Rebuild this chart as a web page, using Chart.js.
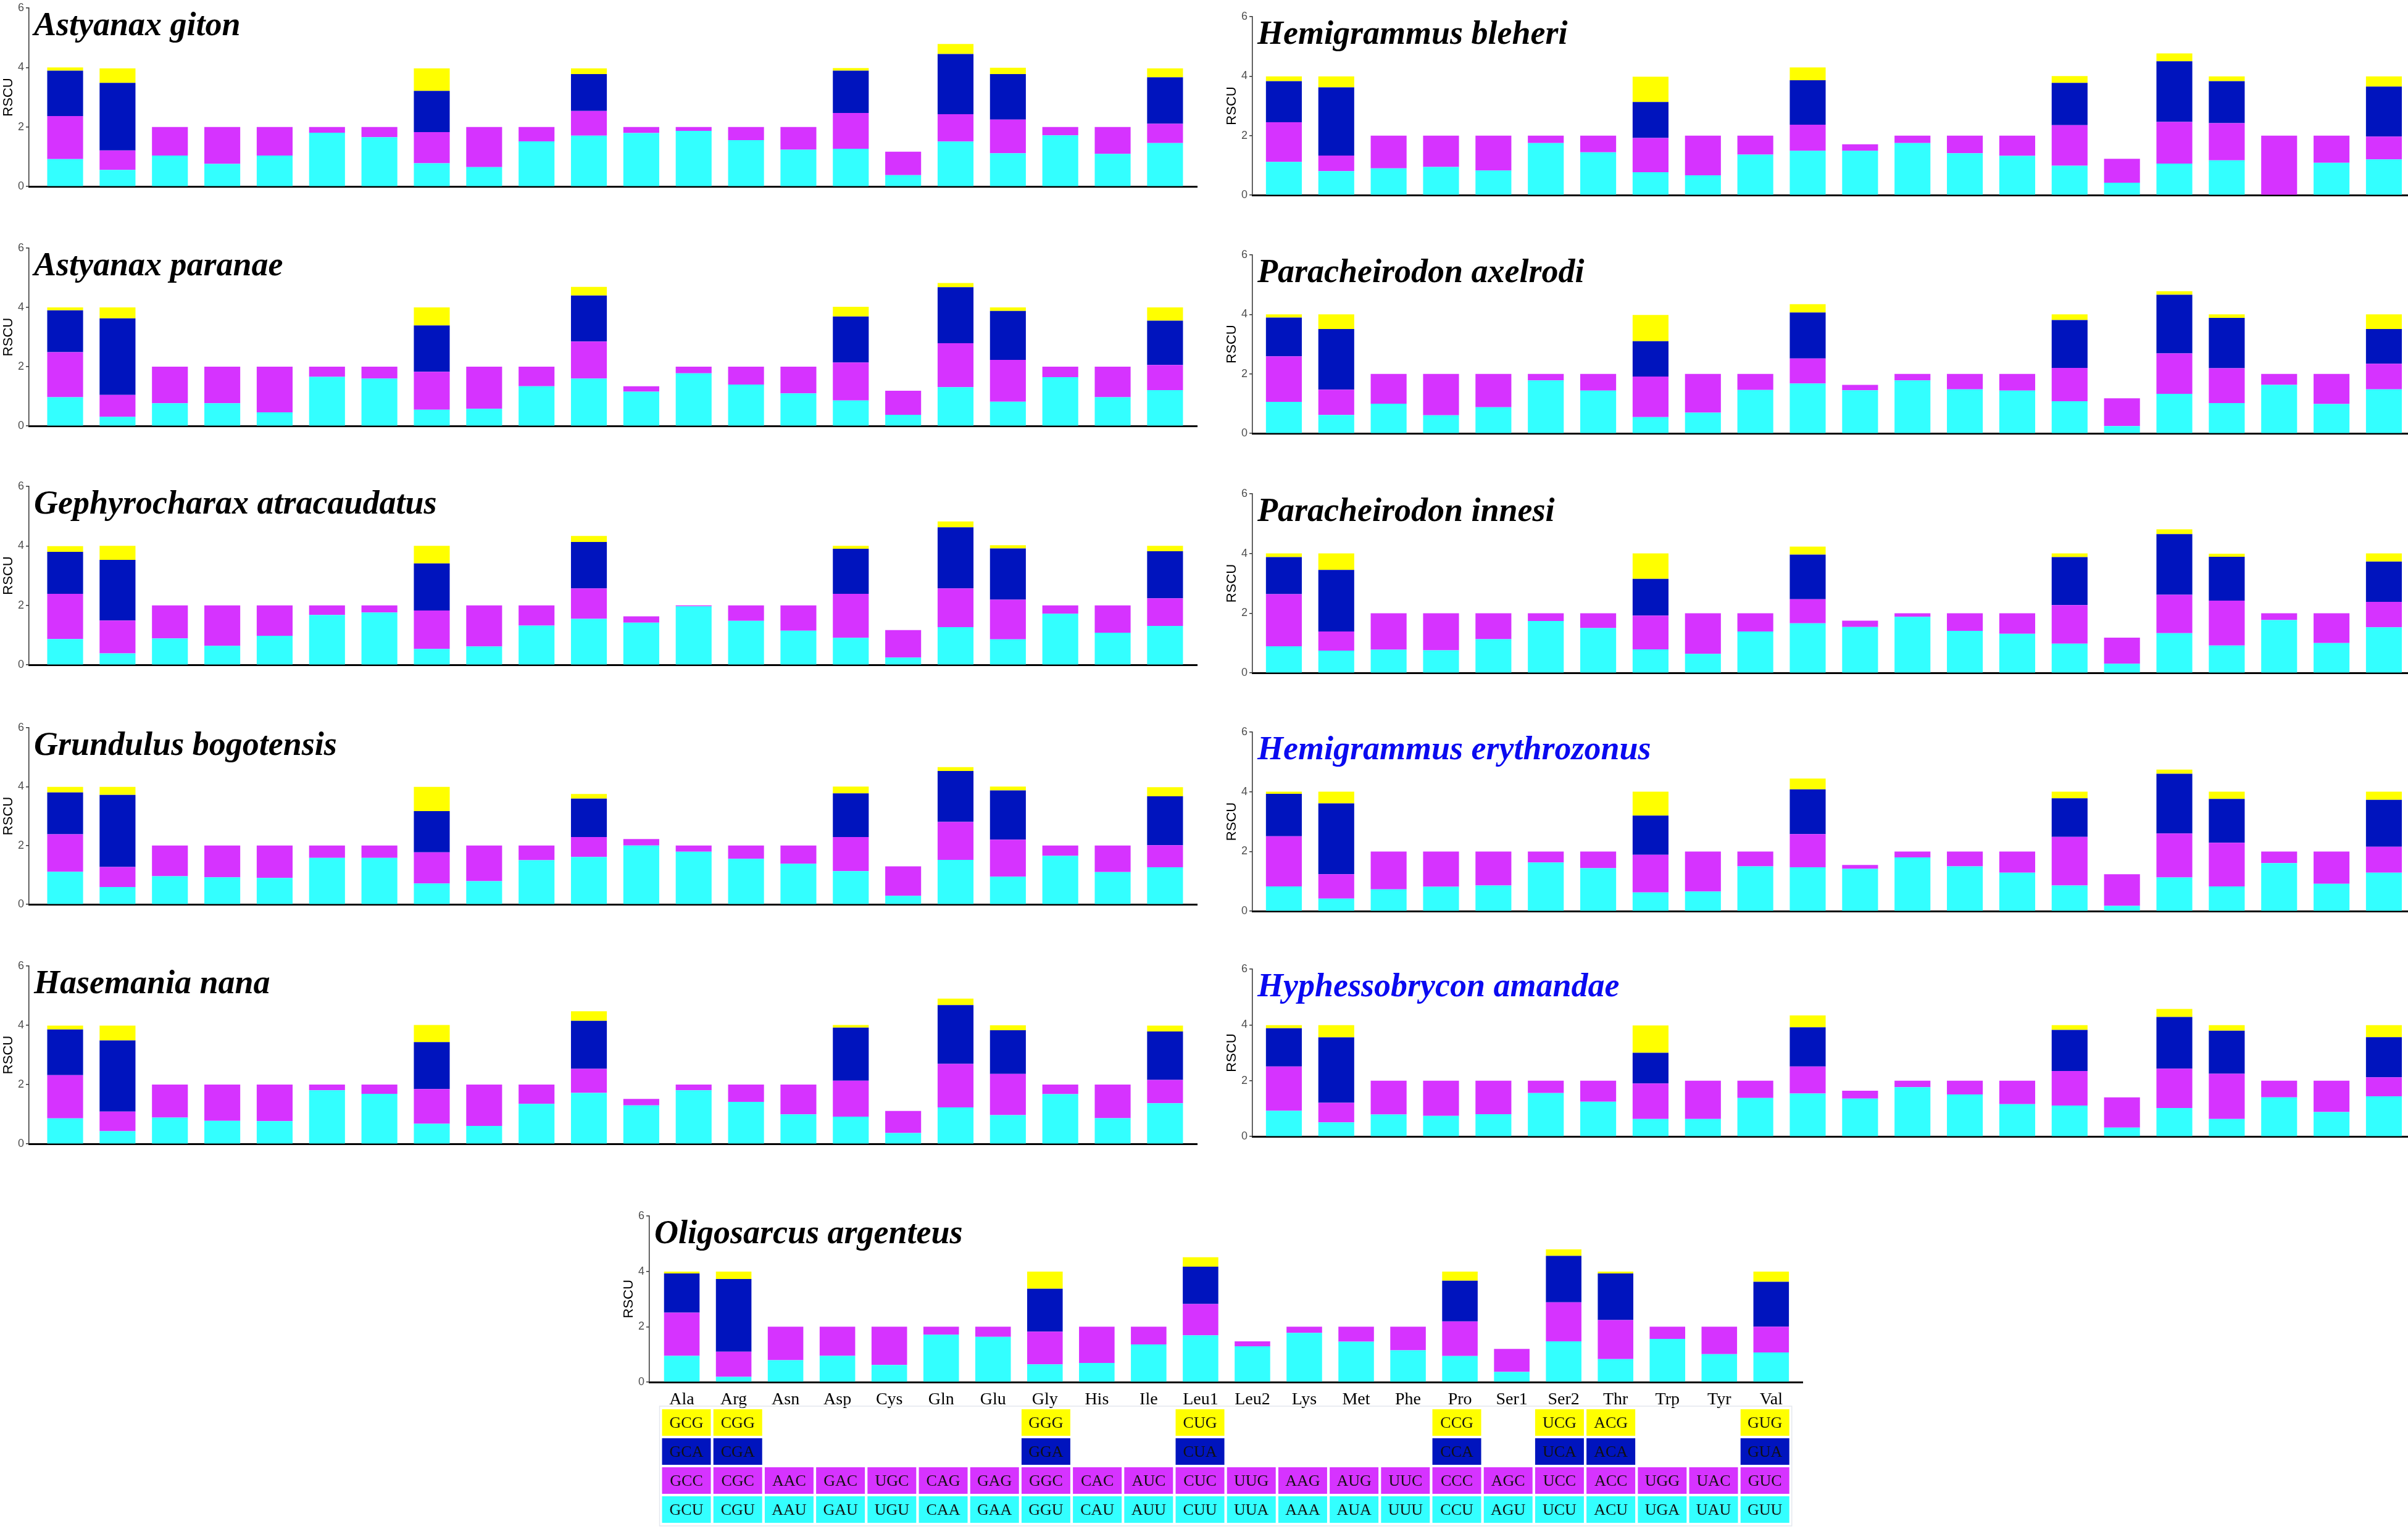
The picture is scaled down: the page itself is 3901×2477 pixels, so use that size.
<!DOCTYPE html>
<html>
<head>
<meta charset="utf-8">
<script src="https://cdn.jsdelivr.net/npm/chart.js@4.4.1/dist/chart.umd.min.js"></script>
<style>
  html, body { margin: 0; padding: 0; background: #fff; }
  #page { position: relative; width: 3901px; height: 2477px; overflow: hidden; background: #fff; }
  #page canvas { position: absolute; }
</style>
</head>
<body>
<div id="page"></div>
<script>
// Amino acids on the x axis
const aminoAcids = ['Ala', 'Arg', 'Asn', 'Asp', 'Cys', 'Gln', 'Glu', 'Gly', 'His', 'Ile', 'Leu1',
  'Leu2', 'Lys', 'Met', 'Phe', 'Pro', 'Ser1', 'Ser2', 'Thr', 'Trp', 'Tyr', 'Val'];
// Families that also have an xxA and an xxG codon (index into aminoAcids)
const fourFold = [0, 1, 7, 10, 15, 17, 18, 21];

// Codon table under the last panel, top row first
const codonG = ['GCG', 'CGG', '', '', '', '', '', 'GGG', '', '', 'CUG', '', '', '', '', 'CCG', '', 'UCG', 'ACG', '', '', 'GUG'];
const codonA = ['GCA', 'CGA', '', '', '', '', '', 'GGA', '', '', 'CUA', '', '', '', '', 'CCA', '', 'UCA', 'ACA', '', '', 'GUA'];
const codonC = ['GCC', 'CGC', 'AAC', 'GAC', 'UGC', 'CAG', 'GAG', 'GGC', 'CAC', 'AUC', 'CUC', 'UUG', 'AAG', 'AUG', 'UUC', 'CCC', 'AGC', 'UCC', 'ACC', 'UGG', 'UAC', 'GUC'];
const codonU = ['GCU', 'CGU', 'AAU', 'GAU', 'UGU', 'CAA', 'GAA', 'GGU', 'CAU', 'AUU', 'CUU', 'UUA', 'AAA', 'AUA', 'UUU', 'CCU', 'AGU', 'UCU', 'ACU', 'UGA', 'UAU', 'GUU'];

// RSCU by species: U and C for every amino acid, A and G for the fourFold ones
const gitonU = [0.92, 0.56, 1.04, 0.76, 1.04, 1.81, 1.66, 0.78, 0.65, 1.52, 1.71, 1.80, 1.87, 1.56, 1.24, 1.27, 0.38, 1.51, 1.12, 1.72, 1.10, 1.46];
const gitonC = [1.45, 0.65, 0.96, 1.24, 0.96, 0.19, 0.34, 1.05, 1.35, 0.48, 0.83, 0.20, 0.13, 0.44, 0.76, 1.20, 0.79, 0.92, 1.13, 0.28, 0.90, 0.65];
const gitonA = [1.52, 2.27, 1.38, 1.24, 1.42, 2.02, 1.53, 1.56];
const gitonG = [0.11, 0.49, 0.76, 0.19, 0.09, 0.34, 0.21, 0.30];

const paranaeU = [0.97, 0.31, 0.77, 0.77, 0.46, 1.66, 1.60, 0.55, 0.58, 1.34, 1.60, 1.16, 1.78, 1.40, 1.10, 0.86, 0.38, 1.31, 0.82, 1.65, 0.97, 1.21];
const paranaeC = [1.52, 0.74, 1.23, 1.23, 1.54, 0.34, 0.40, 1.28, 1.42, 0.66, 1.25, 0.18, 0.22, 0.60, 0.90, 1.28, 0.81, 1.48, 1.41, 0.35, 1.03, 0.85];
const paranaeA = [1.41, 2.58, 1.56, 1.55, 1.55, 1.89, 1.65, 1.49];
const paranaeG = [0.10, 0.37, 0.61, 0.29, 0.33, 0.14, 0.12, 0.45];

const atracaudatusU = [0.87, 0.39, 0.89, 0.64, 0.98, 1.68, 1.76, 0.54, 0.62, 1.32, 1.55, 1.42, 1.97, 1.48, 1.15, 0.91, 0.25, 1.27, 0.86, 1.72, 1.08, 1.31];
const atracaudatusC = [1.52, 1.10, 1.11, 1.36, 1.02, 0.32, 0.24, 1.29, 1.38, 0.68, 1.02, 0.21, 0.03, 0.52, 0.85, 1.48, 0.92, 1.30, 1.33, 0.28, 0.92, 0.93];
const atracaudatusA = [1.41, 2.04, 1.58, 1.56, 1.51, 2.05, 1.72, 1.58];
const atracaudatusG = [0.19, 0.47, 0.59, 0.20, 0.10, 0.20, 0.11, 0.18];

const bogotensisU = [1.11, 0.59, 0.96, 0.92, 0.90, 1.58, 1.58, 0.71, 0.79, 1.50, 1.61, 2.00, 1.79, 1.55, 1.38, 1.13, 0.29, 1.51, 0.94, 1.65, 1.10, 1.26];
const bogotensisC = [1.27, 0.68, 1.04, 1.08, 1.10, 0.42, 0.42, 1.06, 1.21, 0.50, 0.68, 0.22, 0.21, 0.45, 0.62, 1.16, 1.00, 1.29, 1.26, 0.35, 0.90, 0.75];
const bogotensisA = [1.42, 2.45, 1.40, 1.30, 1.48, 1.73, 1.67, 1.66];
const bogotensisG = [0.19, 0.27, 0.82, 0.16, 0.23, 0.13, 0.13, 0.31];

const nanaU = [0.86, 0.43, 0.89, 0.78, 0.77, 1.81, 1.69, 0.68, 0.61, 1.35, 1.72, 1.30, 1.81, 1.42, 1.00, 0.92, 0.37, 1.23, 0.97, 1.68, 0.87, 1.37];
const nanaC = [1.46, 0.66, 1.11, 1.22, 1.23, 0.19, 0.31, 1.17, 1.39, 0.65, 0.81, 0.22, 0.19, 0.58, 1.00, 1.21, 0.74, 1.47, 1.39, 0.32, 1.13, 0.79];
const nanaA = [1.54, 2.40, 1.58, 1.62, 1.79, 1.98, 1.47, 1.63];
const nanaG = [0.13, 0.50, 0.58, 0.32, 0.09, 0.22, 0.17, 0.20];

const bleheriU = [1.12, 0.81, 0.90, 0.95, 0.83, 1.75, 1.44, 0.77, 0.67, 1.36, 1.49, 1.49, 1.75, 1.41, 1.32, 0.99, 0.42, 1.06, 1.17, 0.00, 1.09, 1.20];
const bleheriC = [1.33, 0.52, 1.10, 1.05, 1.17, 0.25, 0.56, 1.15, 1.33, 0.64, 0.88, 0.22, 0.25, 0.59, 0.68, 1.36, 0.80, 1.40, 1.25, 2.00, 0.91, 0.77];
const bleheriA = [1.38, 2.29, 1.21, 1.49, 1.42, 2.04, 1.41, 1.68];
const bleheriG = [0.16, 0.37, 0.85, 0.43, 0.23, 0.26, 0.16, 0.34];

const axelrodiU = [1.06, 0.62, 1.00, 0.61, 0.88, 1.78, 1.44, 0.55, 0.70, 1.46, 1.68, 1.45, 1.78, 1.48, 1.44, 1.08, 0.25, 1.33, 1.02, 1.63, 0.99, 1.48];
const axelrodiC = [1.53, 0.85, 1.00, 1.39, 1.12, 0.22, 0.56, 1.36, 1.30, 0.54, 0.84, 0.18, 0.22, 0.52, 0.56, 1.12, 0.93, 1.36, 1.17, 0.37, 1.01, 0.86];
const axelrodiA = [1.30, 2.04, 1.19, 1.54, 1.61, 1.97, 1.69, 1.17];
const axelrodiG = [0.11, 0.49, 0.88, 0.28, 0.19, 0.12, 0.12, 0.49];

const innesiU = [0.89, 0.75, 0.78, 0.76, 1.13, 1.74, 1.50, 0.79, 0.64, 1.39, 1.66, 1.54, 1.88, 1.41, 1.31, 0.98, 0.31, 1.33, 0.92, 1.77, 1.00, 1.53];
const innesiC = [1.75, 0.64, 1.22, 1.24, 0.87, 0.26, 0.50, 1.13, 1.36, 0.61, 0.81, 0.21, 0.12, 0.59, 0.69, 1.29, 0.87, 1.29, 1.50, 0.23, 1.00, 0.85];
const innesiA = [1.24, 2.06, 1.23, 1.49, 1.61, 2.03, 1.47, 1.35];
const innesiG = [0.12, 0.55, 0.85, 0.27, 0.12, 0.16, 0.10, 0.27];

const erythrozonusU = [0.83, 0.42, 0.73, 0.82, 0.86, 1.63, 1.44, 0.63, 0.66, 1.50, 1.47, 1.42, 1.80, 1.50, 1.29, 0.86, 0.18, 1.13, 0.83, 1.61, 0.92, 1.29];
const erythrozonusC = [1.68, 0.82, 1.27, 1.18, 1.14, 0.37, 0.56, 1.26, 1.34, 0.50, 1.11, 0.13, 0.20, 0.50, 0.71, 1.63, 1.06, 1.47, 1.46, 0.39, 1.08, 0.87];
const erythrozonusA = [1.42, 2.37, 1.31, 1.50, 1.29, 2.00, 1.47, 1.57];
const erythrozonusG = [0.07, 0.39, 0.80, 0.36, 0.22, 0.14, 0.24, 0.27];

const amandaeU = [0.92, 0.51, 0.79, 0.74, 0.80, 1.56, 1.25, 0.63, 0.63, 1.38, 1.54, 1.36, 1.77, 1.51, 1.16, 1.11, 0.32, 1.02, 0.63, 1.40, 0.88, 1.44];
const amandaeC = [1.59, 0.70, 1.21, 1.26, 1.20, 0.44, 0.75, 1.27, 1.37, 0.62, 0.97, 0.28, 0.23, 0.49, 0.84, 1.24, 1.08, 1.41, 1.62, 0.60, 1.12, 0.68];
const amandaeA = [1.37, 2.34, 1.10, 1.40, 1.47, 1.85, 1.54, 1.44];
const amandaeG = [0.11, 0.44, 0.98, 0.43, 0.17, 0.29, 0.20, 0.43];

const argenteusU = [0.95, 0.19, 0.79, 0.95, 0.62, 1.71, 1.63, 0.64, 0.69, 1.36, 1.69, 1.29, 1.78, 1.46, 1.15, 0.94, 0.37, 1.47, 0.83, 1.56, 1.01, 1.07];
const argenteusC = [1.56, 0.91, 1.21, 1.05, 1.38, 0.29, 0.37, 1.18, 1.31, 0.64, 1.13, 0.18, 0.22, 0.54, 0.85, 1.25, 0.83, 1.41, 1.41, 0.44, 0.99, 0.93];
const argenteusA = [1.41, 2.62, 1.55, 1.35, 1.47, 1.68, 1.68, 1.62];
const argenteusG = [0.07, 0.27, 0.62, 0.34, 0.33, 0.23, 0.07, 0.37];

// Segment colours, bottom to top
const COLORS = { U: '#33ffff', C: '#d633ff', A: '#0014be', G: '#ffff00' };
const BLACK_TITLE = '#000000';
const BLUE_TITLE = '#0a0af0';

// Column layouts: y axis x position, right end of the x axis, visible x range in category units
const LEFT_COL = { axisX: 47, right: 1940, xMin: -0.69, xMax: 21.62 };
const RIGHT_COL = { axisX: 2029, right: 3901, xMin: -0.60, xMax: 21.46 };
const BOTTOM_COL = { axisX: 1052, right: 2921, xMin: -0.625, xMax: 21.615 };

// Panels: pixel rows of RSCU 6 (top) and 0 (bottom)
const panels = [
  { name: 'Astyanax giton', U: gitonU, C: gitonC, A: gitonA, G: gitonG, color: BLACK_TITLE, col: LEFT_COL, top: 11, bottom: 304 },
  { name: 'Astyanax paranae', U: paranaeU, C: paranaeC, A: paranaeA, G: paranaeG, color: BLACK_TITLE, col: LEFT_COL, top: 400, bottom: 692 },
  { name: 'Gephyrocharax atracaudatus', U: atracaudatusU, C: atracaudatusC, A: atracaudatusA, G: atracaudatusG, color: BLACK_TITLE, col: LEFT_COL, top: 786, bottom: 1079 },
  { name: 'Grundulus bogotensis', U: bogotensisU, C: bogotensisC, A: bogotensisA, G: bogotensisG, color: BLACK_TITLE, col: LEFT_COL, top: 1177, bottom: 1467 },
  { name: 'Hasemania nana', U: nanaU, C: nanaC, A: nanaA, G: nanaG, color: BLACK_TITLE, col: LEFT_COL, top: 1563, bottom: 1855 },
  { name: 'Hemigrammus bleheri', U: bleheriU, C: bleheriC, A: bleheriA, G: bleheriG, color: BLACK_TITLE, col: RIGHT_COL, top: 25, bottom: 318 },
  { name: 'Paracheirodon axelrodi', U: axelrodiU, C: axelrodiC, A: axelrodiA, G: axelrodiG, color: BLACK_TITLE, col: RIGHT_COL, top: 411, bottom: 704 },
  { name: 'Paracheirodon innesi', U: innesiU, C: innesiC, A: innesiA, G: innesiG, color: BLACK_TITLE, col: RIGHT_COL, top: 798, bottom: 1092 },
  { name: 'Hemigrammus erythrozonus', U: erythrozonusU, C: erythrozonusC, A: erythrozonusA, G: erythrozonusG, color: BLUE_TITLE, col: RIGHT_COL, top: 1184, bottom: 1478 },
  { name: 'Hyphessobrycon amandae', U: amandaeU, C: amandaeC, A: amandaeA, G: amandaeG, color: BLUE_TITLE, col: RIGHT_COL, top: 1568, bottom: 1843 },
  { name: 'Oligosarcus argenteus', U: argenteusU, C: argenteusC, A: argenteusA, G: argenteusG, color: BLACK_TITLE, col: BOTTOM_COL, top: 1968, bottom: 2239, last: true }
];

const PAGE_H = 2477;
const PAD_TOP = 12;
const Y_AXIS_W = 46;

// Spread the four-fold values over all amino acid slots
function spread(values) {
  const out = aminoAcids.map(() => null);
  fourFold.forEach((idx, k) => { out[idx] = values[k]; });
  return out;
}

function toPoints(values) {
  return values.map((v, i) => ({ x: i, y: v }));
}

// Species name inside the plot, and the codon table under the last panel
const decorations = {
  id: 'decorations',
  afterDraw(chart, args, opts) {
    const { ctx, chartArea, scales } = chart;
    ctx.save();
    ctx.font = 'italic bold 54px "Liberation Serif"';
    ctx.fillStyle = opts.color;
    ctx.textAlign = 'left';
    ctx.textBaseline = 'alphabetic';
    ctx.fillText(opts.name, chartArea.left + 8, chartArea.top + 44);

    if (opts.table) {
      // table cells sit on a slightly tighter pitch than the bars
      const cellPitch = 83.2;
      const cellW = 79;
      const rowH = 43;
      const rowStep = 47;
      const tableLeft = scales.x.getPixelForValue(0) - 32;
      const y0 = chartArea.bottom + 44;
      const rows = [[codonG, COLORS.G], [codonA, COLORS.A], [codonC, COLORS.C], [codonU, COLORS.U]];

      // faint frame round the table
      const tableRight = tableLeft + cellPitch * (aminoAcids.length - 1) + cellW;
      ctx.strokeStyle = '#e4e7ee';
      ctx.lineWidth = 1.5;
      ctx.strokeRect(tableLeft - 4, y0 - 5, tableRight - tableLeft + 8, rowStep * 4 + 6);

      ctx.font = '26px "Liberation Serif"';
      ctx.textAlign = 'center';
      ctx.textBaseline = 'middle';
      rows.forEach(([labels, fill], r) => {
        const y = y0 + r * rowStep;
        labels.forEach((codon, i) => {
          if (!codon) return;
          const cx = tableLeft + i * cellPitch;
          ctx.fillStyle = fill;
          ctx.fillRect(cx, y, cellW, rowH);
          ctx.fillStyle = '#111';
          ctx.fillText(codon, cx + cellW / 2, y + rowH / 2 + 2);
        });
      });
    }
    ctx.restore();
  }
};

function drawPanel(p) {
  const last = !!p.last;
  const col = p.col;
  const xAxisH = last ? 44 : 4;
  const padBottom = last ? PAGE_H - p.bottom - xAxisH : 8;
  const left = col.axisX - Y_AXIS_W;
  const width = col.right - left;
  const height = PAD_TOP + (p.bottom - p.top) + xAxisH + padBottom;

  const canvas = document.createElement('canvas');
  canvas.width = width;
  canvas.height = height;
  canvas.style.left = left + 'px';
  canvas.style.top = (p.top - PAD_TOP) + 'px';
  canvas.style.width = width + 'px';
  canvas.style.height = height + 'px';
  document.getElementById('page').appendChild(canvas);

  const series = [
    ['U', p.U, COLORS.U],
    ['C', p.C, COLORS.C],
    ['A', spread(p.A), COLORS.A],
    ['G', spread(p.G), COLORS.G]
  ];

  new Chart(canvas.getContext('2d'), {
    type: 'bar',
    data: {
      datasets: series.map(([label, values, color]) => ({
        label: label,
        data: toPoints(values),
        backgroundColor: color,
        borderWidth: 0,
        categoryPercentage: 1,
        barPercentage: 0.685
      }))
    },
    plugins: [decorations],
    options: {
      responsive: false,
      animation: false,
      devicePixelRatio: 1,
      layout: { padding: { top: PAD_TOP, right: 0, bottom: padBottom, left: 0 } },
      plugins: {
        legend: { display: false },
        tooltip: { enabled: false },
        decorations: { name: p.name, color: p.color, table: last }
      },
      scales: {
        x: {
          type: 'linear',
          stacked: true,
          offset: false,
          min: col.xMin,
          max: col.xMax,
          grid: { display: false },
          border: { display: true, color: '#000', width: 3 },
          afterBuildTicks: s => { s.ticks = aminoAcids.map((_, i) => ({ value: i })); },
          ticks: {
            display: last,
            autoSkip: false,
            maxRotation: 0,
            padding: 4,
            color: '#000',
            font: { family: '"Liberation Serif"', size: 28 },
            callback: v => aminoAcids[v]
          },
          afterFit: s => { s.height = xAxisH; }
        },
        y: {
          stacked: true,
          min: 0,
          max: 6,
          grid: { drawOnChartArea: false, drawTicks: true, tickLength: 5, color: '#333', lineWidth: 1.5 },
          border: { display: true, color: '#333', width: 1.5 },
          ticks: {
            stepSize: 2,
            color: '#4d4d4d',
            padding: 3,
            font: { family: '"Liberation Sans"', size: 18 }
          },
          title: {
            display: true,
            text: 'RSCU',
            color: '#000',
            padding: 0,
            font: { family: '"Liberation Sans"', size: 22 }
          },
          afterFit: s => { s.width = Y_AXIS_W; }
        }
      }
    }
  });
}

panels.forEach(drawPanel);
</script>
</body>
</html>
